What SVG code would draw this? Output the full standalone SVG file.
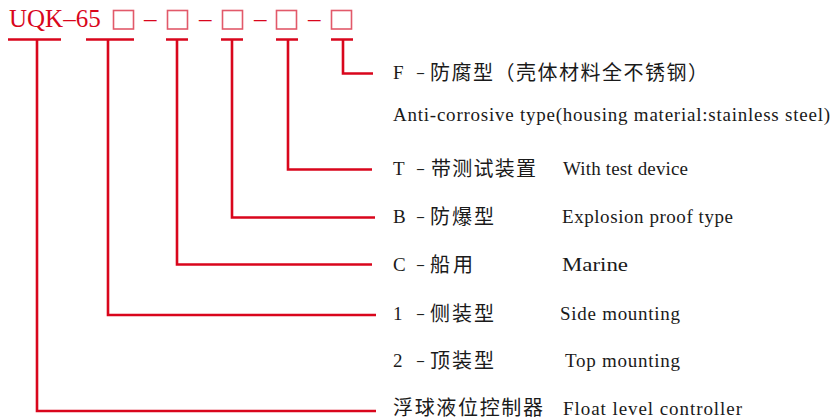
<svg xmlns="http://www.w3.org/2000/svg" width="835" height="420" viewBox="0 0 835 420">
  <style>
    .en { font-family: "Liberation Serif", "Times New Roman", serif; font-size: 19px; fill: #1a1a1a; }
    .dash { font-family: "Liberation Serif", "Times New Roman", serif; font-size: 14px; font-weight: bold; fill: #1a1a1a; }
    .cn { font-family: "Noto Sans CJK SC", "Noto Sans", sans-serif; font-size: 20px; fill: #1a1a1a; }
    .hd { font-family: "Liberation Serif", "Times New Roman", serif; font-size: 25px; fill: #d9061c; }
    .box { fill: none; stroke: #e2596a; stroke-width: 1.6; }
    .ln { fill: none; stroke: #d9061c; stroke-width: 2.6; stroke-linejoin: miter; stroke-linecap: butt; }
  </style>
  <rect width="835" height="420" fill="#ffffff"/>

  <g id="header">
    <text class="hd" x="9" y="27">UQK–65</text>
    <rect class="box" x="113.5" y="10.5" width="20" height="18.5"/>
    <text class="hd" x="144" y="27">–</text>
    <rect class="box" x="167.5" y="10.5" width="20" height="18.5"/>
    <text class="hd" x="199" y="27">–</text>
    <rect class="box" x="222.5" y="10.5" width="20" height="18.5"/>
    <text class="hd" x="254" y="27">–</text>
    <rect class="box" x="276.5" y="10.5" width="20" height="18.5"/>
    <text class="hd" x="308" y="27">–</text>
    <rect class="box" x="331.5" y="10.5" width="20" height="18.5"/>
  </g>

  <g id="connectors">
    <path class="ln" d="M8 39.5 H61 M37 39.5 V411 H376"/>
    <path class="ln" d="M86 39.5 H134 M108 39.5 V315 H376"/>
    <path class="ln" d="M166 39.5 H188 M177 39.5 V264.5 H372"/>
    <path class="ln" d="M221 39.5 H243 M232 39.5 V217.5 H375"/>
    <path class="ln" d="M276 39.5 H298 M288 39.5 V169.5 H372"/>
    <path class="ln" d="M331 39.5 H353 M343 39.5 V73.5 H373"/>
  </g>

  <g id="opt-F">
    <text class="en" x="393" y="79">F</text>
    <text class="dash" x="417" y="76.5">–</text>
    <text class="cn" x="430" y="80" textLength="278" lengthAdjust="spacing">防腐型（壳体材料全不锈钢）</text>
    <text class="en" x="393" y="121" textLength="437" lengthAdjust="spacing">Anti-corrosive type(housing material:stainless steel)</text>
  </g>

  <g id="opt-T">
    <text class="en" x="393" y="175">T</text>
    <text class="dash" x="417" y="172.5">–</text>
    <text class="cn" x="431" y="176" textLength="105" lengthAdjust="spacing">带测试装置</text>
    <text class="en" x="563" y="175" textLength="125" lengthAdjust="spacing">With test device</text>
  </g>

  <g id="opt-B">
    <text class="en" x="393" y="223">B</text>
    <text class="dash" x="417" y="220.5">–</text>
    <text class="cn" x="430" y="224" textLength="64" lengthAdjust="spacing">防爆型</text>
    <text class="en" x="562" y="223" textLength="171" lengthAdjust="spacing">Explosion proof type</text>
  </g>

  <g id="opt-C">
    <text class="en" x="393" y="271">C</text>
    <text class="dash" x="417" y="268.5">–</text>
    <text class="cn" x="430" y="272" textLength="43" lengthAdjust="spacing">船用</text>
    <text class="en" x="562" y="271" textLength="66" lengthAdjust="spacingAndGlyphs">Marine</text>
  </g>

  <g id="opt-1">
    <text class="en" x="393" y="320">1</text>
    <text class="dash" x="417" y="317.5">–</text>
    <text class="cn" x="430" y="321" textLength="64" lengthAdjust="spacing">侧装型</text>
    <text class="en" x="560" y="320" textLength="120" lengthAdjust="spacing">Side mounting</text>
  </g>

  <g id="opt-2">
    <text class="en" x="393" y="367">2</text>
    <text class="dash" x="417" y="364.5">–</text>
    <text class="cn" x="430" y="368" textLength="64" lengthAdjust="spacing">顶装型</text>
    <text class="en" x="565" y="367" textLength="115" lengthAdjust="spacing">Top mounting</text>
  </g>

  <g id="product">
    <text class="cn" x="393" y="415" textLength="150" lengthAdjust="spacing">浮球液位控制器</text>
    <text class="en" x="563" y="415" textLength="179" lengthAdjust="spacing">Float level controller</text>
  </g>
</svg>
